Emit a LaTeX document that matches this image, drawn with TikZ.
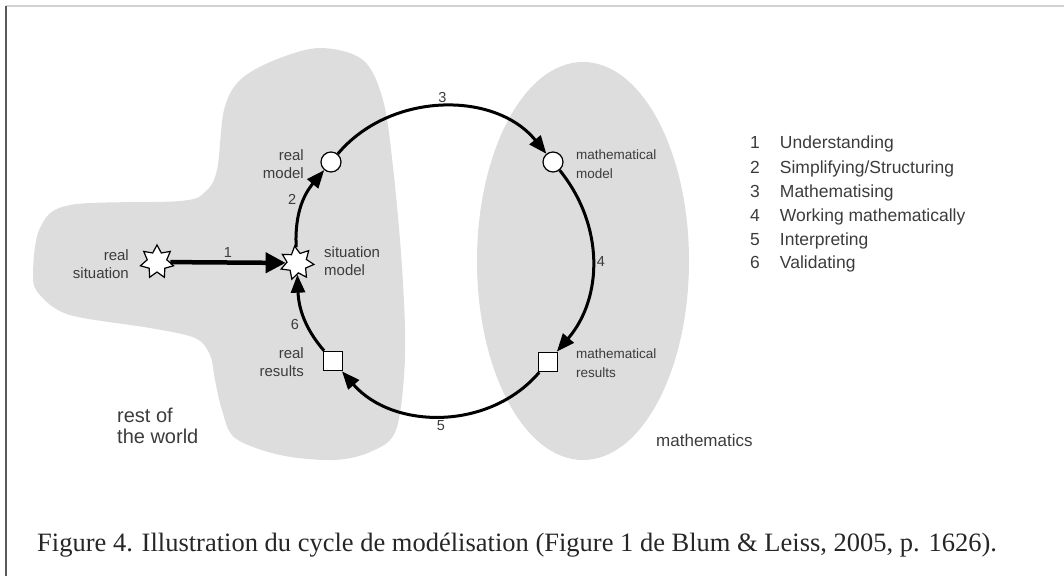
\documentclass[tikz,border=0pt]{standalone}
\usepackage{fontspec}
\setmainfont{Liberation Serif}
\setsansfont{Liberation Sans}
\usetikzlibrary{arrows.meta,shapes.geometric}
\definecolor{worldgray}{RGB}{221,221,221}
\definecolor{labelgray}{RGB}{60,60,60}

\begin{document}
\begin{tikzpicture}[x=1pt,y=1pt,auto,
		star node/.style={star,star points=7,star point ratio=1.7,minimum size=34pt,inner sep=0pt,draw,fill=white,line width=1.2pt},
		model/.style={circle,minimum size=20pt,inner sep=0pt,draw,fill=white,line width=1.2pt},
		result/.style={rectangle,minimum size=19pt,inner sep=0pt,draw,fill=white,line width=1.6pt},
		lbl/.style={inner sep=0pt,font=\sffamily\fontsize{15}{18}\selectfont,text=labelgray},
		mlbl/.style={inner sep=0pt,font=\sffamily\fontsize{13.5}{19.5}\selectfont,text=labelgray},
		num/.style={inner sep=3pt,font=\sffamily\fontsize{14.5}{16}\selectfont,text=labelgray},
		cyc/.style={line width=3pt,-{Triangle[length=18pt,width=14pt]}},
		legend/.style={anchor=west,inner sep=0pt,font=\sffamily\fontsize{17.5}{21}\selectfont,text=labelgray}]
	\useasboundingbox (0,0) rectangle (1064,576);
	\draw [gray!35,line width=1.5pt] (6,570) -- (1064,570);
	\draw [black!65,line width=1.5pt] (6,570) -- (6,0);

	\fill [worldgray] plot [smooth cycle,tension=0.55] coordinates {
		(33,301) (40,348) (70,371) (180,375) (205,384) (217,406) (224,466) (240,496)
		(275,516) (320,528) (363,516) (383,476) (393,409) (402,309) (405,219) (396,146)
		(370,124) (333,116) (280,121) (235,138) (222,166) (215,196) (210,221) (195,238)
		(150,248) (70,261) (40,281)};
	\fill [worldgray] (583,315) ellipse [x radius=106,y radius=199];

	\node [star node] (rs) at (157,314) {};
	\node [star node,rotate=8] (sm) at (297,313) {};
	\node [model] (rm) at (331,414) {};
	\node [model] (mm) at (553,414) {};
	\node [result] (rr) at (333,215) {};
	\node [result] (mr) at (548,214) {};

	\node [lbl,anchor=east,align=right] (rslbl) at (129,312) {real\\situation};
	\node [lbl,anchor=west,align=left] (smlbl) at (324,315) {situation\\model};
	\node [lbl,anchor=east,align=right] (rmlbl) at (304,412) {real\\model};
	\node [lbl,anchor=east,align=right] (rrlbl) at (304,214) {real\\results};
	\node [mlbl,anchor=west,align=left] (mmlbl) at (576,412) {mathematical\\model};
	\node [mlbl,anchor=west,align=left] (mrlbl) at (576,213) {mathematical\\results};
	\node [anchor=west,align=left,inner sep=0pt,font=\sffamily\fontsize{20}{21}\selectfont,text=labelgray] (world) at (117,150) {rest of\\the world};
	\node [anchor=west,inner sep=0pt,font=\sffamily\fontsize{17}{20}\selectfont,text=labelgray] (maths) at (656,136) {mathematics};

	\draw [line width=4.5pt,-{Triangle[length=20pt,width=20pt]}] (rs) -- node [num] {1} (sm);
	\draw [cyc] (sm) to [out=90,in=230] node [num,pos=0.45] {2} (rm);
	\draw [cyc] (rm) to [out=50,in=129] node [num] {3} (mm);
	\draw [cyc] (mm) to [out=-51,in=49.5] node [num] {4} (mr);
	\draw [cyc] (mr) to [out=-130.5,in=-49] node [num] {5} (rr);
	\draw [cyc] (rr) to [out=131,in=270] node [num] {6} (sm);

	\node [legend] (leg1) at (750,432) {1\hspace{20pt}Understanding};
	\node [legend] (leg2) at (750,407) {2\hspace{20pt}Simplifying/Structuring};
	\node [legend] (leg3) at (750,383) {3\hspace{20pt}Mathematising};
	\node [legend] (leg4) at (750,359) {4\hspace{20pt}Working mathematically};
	\node [legend] (leg5) at (750,335) {5\hspace{20pt}Interpreting};
	\node [legend] (leg6) at (750,312) {6\hspace{20pt}Validating};

	\node [anchor=base west,inner sep=0pt,font=\fontsize{26.5}{30}\selectfont,text=black!85] (caption) at (37,25) {Figure 4. Illustration du cycle de modélisation (Figure 1 de Blum \& Leiss, 2005, p. 1626).};
\end{tikzpicture}
\end{document}
